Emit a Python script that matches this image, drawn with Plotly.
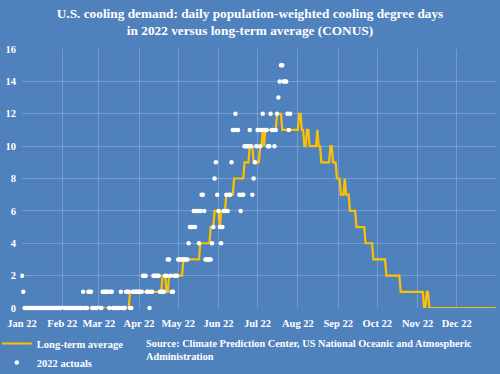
import pandas as pd
import plotly.graph_objects as go

# ---- Long-term average cooling degree days (daily, 2022 calendar) ----
avg_jan = [0, 0, 0, 0, 0, 0, 0, 0, 0, 0, 0, 0, 0, 0, 0, 0, 0, 0, 0, 0, 0, 0, 0, 0, 0, 0, 0, 0, 0, 0, 0]
avg_feb = [0, 0, 0, 0, 0, 0, 0, 0, 0, 0, 0, 0, 0, 0, 0, 0, 0, 0, 0, 0, 0, 0, 0, 0, 0, 0, 0, 0]
avg_mar = [0, 0, 0, 0, 0, 0, 0, 0, 0, 0, 0, 0, 0, 0, 0, 0, 0, 0, 0, 0, 0, 0, 0, 0, 1, 1, 1, 1, 1, 1, 1]
avg_apr = [1, 1, 1, 1, 1, 1, 1, 1, 1, 1, 1, 1, 1, 1, 1, 1, 1, 1, 2, 2, 2, 1, 1, 2, 2, 2, 2, 2, 2, 2]
avg_may = [2, 2, 2, 2, 3, 3, 3, 3, 3, 3, 3, 3, 3, 3, 3, 3, 3, 4, 4, 4, 4, 4, 4, 4, 4, 5, 5, 5, 6, 6, 6]
avg_jun = [6, 5, 6, 6, 6, 6, 7, 7, 7, 7, 7, 7, 8, 8, 8, 8, 8, 8, 8, 8, 9, 9, 9, 9, 10, 10, 10, 9, 9, 9]
avg_jul = [9, 9, 10, 10, 11, 10, 11, 11, 11, 11, 11, 11, 11, 11, 11, 12, 12, 12, 12, 11, 11, 11, 11, 11, 11, 11, 11, 11, 11, 11, 11]
avg_aug = [11, 12, 12, 11, 11, 10, 10, 11, 11, 10, 10, 10, 10, 10, 10, 11, 10, 10, 9, 9, 9, 9, 9, 9, 9, 10, 10, 9, 9, 9, 8]
avg_sep = [8, 8, 7, 7, 7, 8, 7, 7, 7, 6, 6, 6, 6, 6, 5, 5, 5, 5, 5, 5, 5, 4, 4, 4, 4, 4, 4, 3, 3, 3]
avg_oct = [3, 3, 3, 3, 3, 3, 3, 2, 2, 2, 2, 2, 2, 2, 2, 2, 2, 2, 1, 1, 1, 1, 1, 1, 1, 1, 1, 1, 1, 1, 1]
avg_nov = [1, 1, 1, 1, 1, 0, 0, 1, 1, 0, 0, 0, 0, 0, 0, 0, 0, 0, 0, 0, 0, 0, 0, 0, 0, 0, 0, 0, 0, 0]
avg_dec = [0, 0, 0, 0, 0, 0, 0, 0, 0, 0, 0, 0, 0, 0, 0, 0, 0, 0, 0, 0, 0, 0, 0, 0, 0, 0, 0, 0, 0, 0, 0]

# ---- 2022 actuals (daily, Jan 1 to Jul 26) ----
act_jan = [2, 1, 0, 0, 0, 0, 0, 0, 0, 0, 0, 0, 0, 0, 0, 0, 0, 0, 0, 0, 0, 0, 0, 0, 0, 0, 0, 0, 0, 0, 0]
act_feb = [0, 0, 0, 0, 0, 0, 0, 0, 0, 0, 0, 0, 0, 0, 0, 0, 1, 0, 0, 0, 1, 1, 1, 0, 0, 0, 0, 0]
act_mar = [0, 0, 0, 1, 1, 1, 1, 1, 0, 1, 1, 0, 0, 0, 0, 0, 0, 1, 0, 0, 0, 1, 1, 1, 0, 0, 1, 1, 1, 1, 1]
act_apr = [1, 1, 1, 2, 2, 2, 1, 1, 0, 1, 1, 2, 2, 2, 2, 2, 1, 1, 1, 1, 2, 2, 3, 3, 2, 1, 1, 2, 2, 2]
act_may = [3, 3, 3, 3, 3, 3, 3, 3, 4, 5, 5, 5, 6, 5, 6, 6, 4, 6, 7, 7, 6, 3, 3, 3, 3, 3, 4, 5, 8, 9, 7]
act_jun = [6, 5, 4, 5, 6, 6, 7, 6, 7, 7, 9, 11, 11, 12, 11, 11, 7, 6, 7, 7, 10, 10, 10, 10, 11, 10, 7, 8, 9, 10]
act_jul = [11, 11, 10, 11, 12, 11, 11, 11, 10, 10, 12, 11, 11, 10, 11, 12, 13, 14, 15, 15, 14, 14, 14, 12, 11, 12]

long_term_avg = avg_jan + avg_feb + avg_mar + avg_apr + avg_may + avg_jun + avg_jul + avg_aug + avg_sep + avg_oct + avg_nov + avg_dec
actual_2022 = act_jan + act_feb + act_mar + act_apr + act_may + act_jun + act_jul

avg_dates = pd.date_range("2022-01-01", periods=len(long_term_avg), freq="D")
act_dates = pd.date_range("2022-01-01", periods=len(actual_2022), freq="D")

tick_vals = pd.date_range("2022-01-01", "2023-01-01", freq="MS")
tick_text = ["Jan 22", "Feb 22", "Mar 22", "Apr 22", "May 22", "Jun 22", "Jul 22",
             "Aug 22", "Sep 22", "Oct 22", "Nov 22", "Dec 22", ""]
y_ticks = [0, 2, 4, 6, 8, 10, 12, 14, 16]

BG = "#4F81BD"
GRID = "rgba(255,255,255,0.22)"
FONT = "Liberation Serif"

fig = go.Figure()
fig.add_trace(go.Scatter(
    x=avg_dates, y=long_term_avg, mode="lines", name="Long-term average",
    line=dict(color="#FFC000", width=2.2), cliponaxis=False,
))
fig.add_trace(go.Scatter(
    x=act_dates, y=actual_2022, mode="markers", name="2022 actuals",
    marker=dict(color="white", size=4.5, line=dict(width=0)), cliponaxis=False,
))

fig.update_layout(
    width=500, height=374,
    paper_bgcolor=BG, plot_bgcolor=BG,
    margin=dict(l=22, r=3, t=49, b=66, autoexpand=False),
    font=dict(family=FONT, color="white", size=11),
    title=dict(
        text="<b>U.S. cooling demand: daily population-weighted cooling degree days<br>in 2022 versus long-term average (CONUS)</b>",
        x=0.5, xanchor="center", y=0.952, yanchor="top", yref="container",
        font=dict(family=FONT, size=13.3, color="white"),
    ),
    xaxis=dict(
        range=["2022-01-01", "2023-01-01"], automargin=False,
        tickvals=tick_vals, ticktext=tick_text, tickangle=0,
        showgrid=True, gridcolor=GRID, gridwidth=1,
        zeroline=False, showline=False,
        ticks="outside", ticklen=5, tickcolor=BG,
        tickfont=dict(family=FONT, size=10.5, color="white", weight="bold"),
    ),
    yaxis=dict(
        range=[0, 16], tickvals=y_ticks, automargin=False,
        showgrid=True, gridcolor=GRID, gridwidth=1,
        zeroline=False, showline=False,
        ticks="outside", ticklen=3, tickcolor=BG,
        tickfont=dict(family=FONT, size=10.5, color="white", weight="bold"),
    ),
    showlegend=True,
    legend=dict(
        x=-0.053, xanchor="left", y=-0.081, yanchor="top",
        bgcolor="rgba(0,0,0,0)", borderwidth=0,
        font=dict(family=FONT, size=10.5, color="white", weight="bold"),
        itemwidth=30, tracegroupgap=0,
    ),
    annotations=[dict(
        text="<b>Source: Climate Prediction Center, US National Oceanic and Atmospheric<br>Administration</b>",
        xref="paper", yref="paper", x=(144 - 22) / 475, y=-0.108,
        xanchor="left", yanchor="top", align="left", showarrow=False,
        font=dict(family=FONT, size=10.3, color="white"),
    )],
)

fig.write_html(
    "out.html",
    config={"displayModeBar": False},
    post_script="document.body.style.margin='0';document.body.style.overflow='hidden';document.body.style.background='#4F81BD';",
)
